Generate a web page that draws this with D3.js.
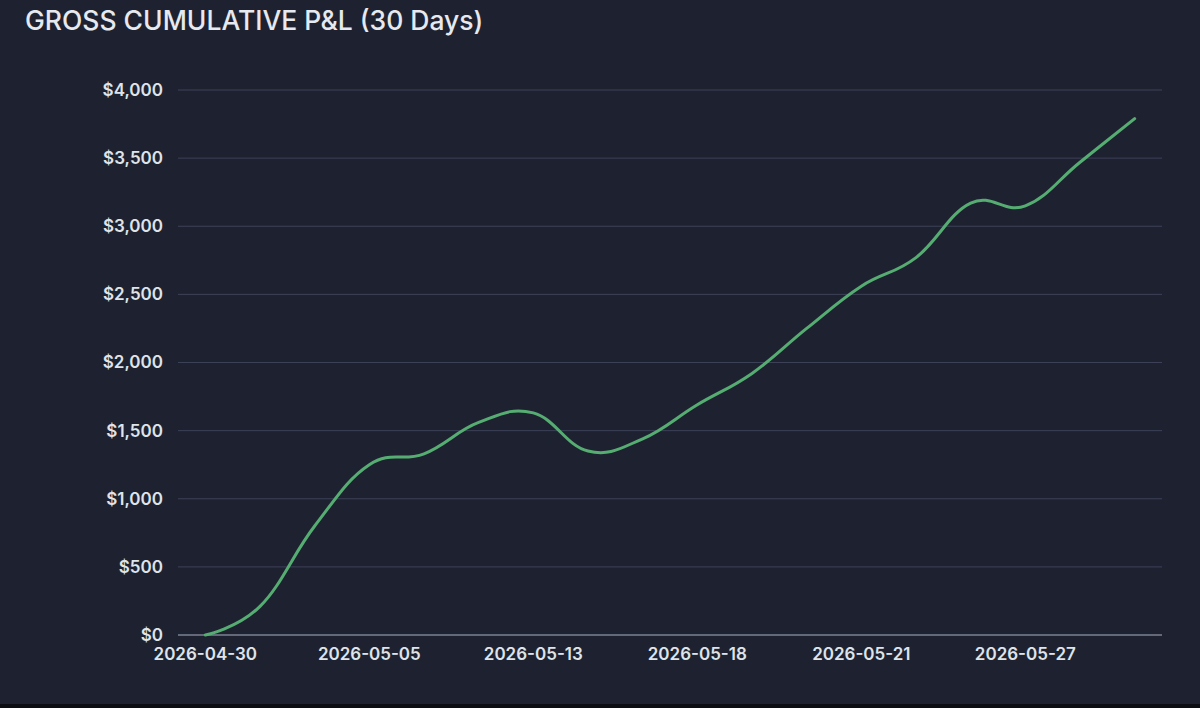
<!DOCTYPE html>
<html>
<head>
<meta charset="utf-8">
<script src="https://cdn.jsdelivr.net/npm/d3@7"></script>
<style>
  html, body { margin: 0; padding: 0; background: #1e2230; }
  svg { display: block; }
  text { font-family: Inter, "Noto Sans", sans-serif; }
</style>
</head>
<body>
<svg id="chart" width="1200" height="708"></svg>
<script>
// trading days (every 3rd one is labelled on the axis)
var dates = ["2026-04-30", "2026-05-01", "2026-05-04", "2026-05-05", "2026-05-07", "2026-05-11",
             "2026-05-13", "2026-05-14", "2026-05-15", "2026-05-18", "2026-05-19", "2026-05-20",
             "2026-05-21", "2026-05-22", "2026-05-26", "2026-05-27", "2026-05-28", "2026-05-29"]
var pnl = [0, 210, 800, 1250, 1330, 1560, 1630, 1350, 1440, 1690, 1920, 2250,
           2560, 2770, 3170, 3150, 3470, 3790]
var yTicks = [0, 500, 1000, 1500, 2000, 2500, 3000, 3500, 4000]

var svg = d3.select("#chart")

svg.append("rect").attr("width", 1200).attr("height", 708).attr("fill", "#1e2230")
svg.append("rect").attr("y", 704).attr("width", 1200).attr("height", 4).attr("fill", "#0b0d12")

svg.append("text")
    .attr("x", 25).attr("y", 30)
    .attr("fill", "#e6e9ef")
    .attr("font-size", 26.5)
    .attr("font-weight", 500)
    .text("GROSS CUMULATIVE P&L (30 Days)")

var plotLeft = 178, plotRight = 1162, plotTop = 90, plotBottom = 635

var x = d3.scalePoint().domain(dates).range([plotLeft, plotRight]).padding(0.5)
var y = d3.scaleLinear().domain([0, 4000]).range([plotBottom, plotTop])

// grid lines
svg.append("g").selectAll("line")
    .data(yTicks)
    .join("line")
    .attr("x1", plotLeft).attr("x2", plotRight)
    .attr("y1", d => y(d)).attr("y2", d => y(d))
    .attr("stroke", d => d == 0 ? "#7d8293" : "#3d4157")
    .attr("stroke-width", d => d == 0 ? 1.5 : 1)

// y labels
var fmt = d3.format(",")
svg.append("g").selectAll("text")
    .data(yTicks)
    .join("text")
    .attr("x", 163)
    .attr("y", d => y(d))
    .attr("dy", "0.35em")
    .attr("text-anchor", "end")
    .attr("fill", "#dfe3ea")
    .attr("font-size", 17)
    .attr("font-weight", 600)
    .text(d => "$" + fmt(d))

// x labels, every 3rd day
svg.append("g").selectAll("text")
    .data(dates.filter((d, i) => i % 3 == 0))
    .join("text")
    .attr("x", d => x(d))
    .attr("y", 654)
    .attr("dy", "0.35em")
    .attr("text-anchor", "middle")
    .attr("fill", "#dfe3ea")
    .attr("font-size", 17)
    .attr("font-weight", 600)
    .text(d => d)

var line = d3.line()
    .x((d, i) => x(dates[i]))
    .y(d => y(d))
    .curve(d3.curveCardinal.tension(-0.2))

svg.append("path")
    .datum(pnl)
    .attr("d", line)
    .attr("fill", "none")
    .attr("stroke", "#56ad72")
    .attr("stroke-width", 3)
    .attr("stroke-linecap", "round")
</script>
</body>
</html>
